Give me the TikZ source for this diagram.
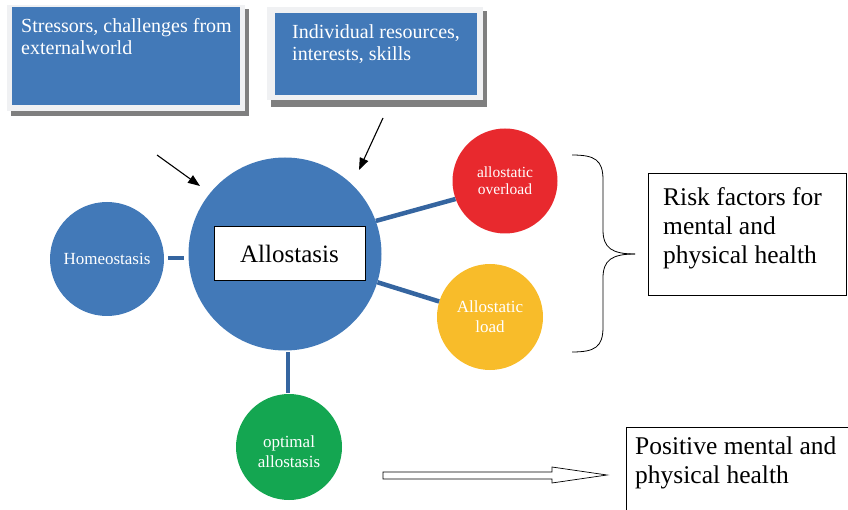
\documentclass[tikz,border=0pt]{standalone}
\usepackage{fontspec}
\setmainfont{Liberation Serif}
\usetikzlibrary{arrows.meta}
\definecolor{cblue}{HTML}{4279B8}
\definecolor{cline}{HTML}{3565A0}
\definecolor{cred}{HTML}{E8292E}
\definecolor{cyellow}{HTML}{F8BC2A}
\definecolor{cgreen}{HTML}{14A651}
\definecolor{cframe}{HTML}{F0F1F3}
\definecolor{cshadow}{HTML}{7F7F7F}
\tikzset{
  bluebox/.style={fill=cblue, draw=none, inner sep=0pt, anchor=north west},
  boxtext/.style={text=white, align=left, inner sep=0pt, anchor=north west,
    font=\fontsize{20}{22}\selectfont},
  disc/.style={circle, draw=none, inner sep=0pt, text=white, align=center,
    font=\fontsize{17}{20}\selectfont},
  disctext/.style={inner sep=0pt, text=white, align=center,
    font=\fontsize{17}{20}\selectfont},
  link/.style={draw=cline, line width=4.5pt},
  pointer/.style={draw=black, line width=1.1pt, -{Triangle[length=12pt,width=9pt]}},
  outtext/.style={align=left, inner sep=0pt, anchor=north west,
    font=\fontsize{25.5}{29}\selectfont}
}
\begin{document}
\begin{tikzpicture}[x=1pt, y=-1pt]
\useasboundingbox (0,0) rectangle (848,510);

% input boxes: drop shadow, pale frame, blue panel
\fill[cshadow] (11,9) rectangle (249,116);
\fill[cframe] (7,5) rectangle (245,111);
\node[bluebox, minimum width=228pt, minimum height=98pt] (stress) at (12,7) {};
\node[boxtext] (stresstext) at (21,18) {Stressors, challenges from\\externalworld};

\fill[cshadow] (271,11) rectangle (487,107);
\fill[cframe] (267,7) rectangle (483,100);
\node[bluebox, minimum width=202pt, minimum height=82pt] (indiv) at (275,13) {};
\node[boxtext] (indivtext) at (292,24) {Individual resources,\\interests, skills};

% central allostasis disc
\node[disc, fill=cblue, minimum size=193pt] (allo) at (285,254) {};
\node[draw=black, fill=white, line width=0.8pt, minimum width=151pt, minimum height=54pt,
  inner sep=0pt, font=\fontsize{25}{28}\selectfont] (allolabel) at (289.5,253.5) {Allostasis};

% satellite discs
\node[disc, fill=cblue, minimum size=114pt] (homeo) at (107,259) {Homeostasis};
\node[disc, fill=cred, minimum size=105pt, font=\fontsize{15.5}{17}\selectfont]
  (over) at (505,181) {allostatic\\overload};
\node[disc, fill=cyellow, minimum size=106pt] (load) at (490,317) {Allostatic\\load};
\node[disc, fill=cgreen, minimum size=106pt] (opt) at (289,447) {};
\node[disctext] (opttext) at ([yshift=-5pt]opt.center) {optimal\\allostasis};

% short connecting bars
\coordinate (h1) at (168,258);
\coordinate (h2) at (184,258);
\draw[link] (h1) -- (h2);
\draw[link] (allo.20) -- (over.200);
\draw[link] (allo.-17) -- (load.163);
\coordinate (g1) at (288,352);
\coordinate (g2) at (288,393);
\draw[link] (g1) -- (g2);

% input pointers
\coordinate (p1) at (157,155);
\coordinate (p2) at (200,186);
\draw[pointer] (p1) -- (p2);
\coordinate (q1) at (383,118);
\coordinate (q2) at (359,170);
\draw[pointer] (q1) -- (q2);

% brace grouping the two risk states
\coordinate (btop) at (572,155);
\coordinate (btip) at (635,254);
\coordinate (bbot) at (572,352);
\draw[line width=0.8pt] (btop) .. controls (595,155) and (603,160) .. (603,180)
  -- (603,230) .. controls (603,248) and (612,254) .. (btip);
\draw[line width=0.8pt] (bbot) .. controls (595,352) and (603,347) .. (603,327)
  -- (603,278) .. controls (603,260) and (612,254) .. (btip);

% outcome boxes
\draw[line width=0.6pt] (648,173) rectangle (846,295);
\node[outtext] (risk) at (663,187) {Risk factors for\\mental and\\physical health};
\draw[line width=0.6pt] (849,427) -- (626,427) -- (626,511);
\node[outtext] (pos) at (635,437) {Positive mental and\\physical health};

% hollow arrow towards positive outcome
\draw[line width=0.7pt, fill=white] (383,472) -- (552,472) -- (552,467) -- (607,475)
  -- (552,483) -- (552,479) -- (383,479) -- cycle;
\end{tikzpicture}
\end{document}
